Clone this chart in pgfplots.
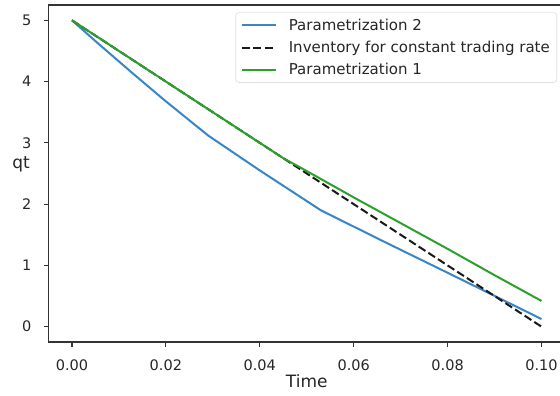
\documentclass[border=0pt]{standalone}
\usepackage{fontspec}
\setmainfont{DejaVu Sans}
\usepackage{pgfplots}
\pgfplotsset{compat=1.18}
\definecolor{pblue}{HTML}{3A86C4}
\definecolor{pgreen}{HTML}{2CA02C}
\begin{document}
\begin{tikzpicture}
\begin{axis}[
  scale only axis,
  width=516.5pt, height=337pt,
  xmin=-0.005, xmax=0.105,
  ymin=-0.25, ymax=5.25,
  xtick={0,0.02,0.04,0.06,0.08,0.1},
  xticklabels={0.00,0.02,0.04,0.06,0.08,0.10},
  ytick={0,1,2,3,4,5},
  /pgf/number format/assume math mode=true,
  tick align=outside, xtick pos=left, ytick pos=left,
  major tick length=5pt,
  tick style={black!80, line width=1.1pt},
  axis line style={black!80, line width=1.1pt},
  ticklabel style={font=\fontsize{14.5}{17}\selectfont, text=black!85, inner sep=0pt},
  xticklabel style={anchor=base, yshift=-24pt},
  yticklabel style={anchor=east, xshift=-12pt},
  xlabel={Time},
  xlabel style={font=\fontsize{17}{20}\selectfont, text=black!85, at={(axis description cs:0.5,0)}, anchor=base, yshift=-46pt, inner sep=0pt},
  ylabel={qt},
  ylabel style={font=\fontsize{17}{20}\selectfont, text=black!85, rotate=-90, at={(axis description cs:0,0.5)}, anchor=base, xshift=-27.5pt, yshift=5.5pt, inner sep=0pt},
  legend style={at={(axis description cs:1,1)}, anchor=north east, xshift=-8pt, yshift=-7.5pt,
    draw=black!20, rounded corners=3pt, fill=white, fill opacity=0.8, text opacity=1,
    font=\fontsize{15}{18}\selectfont, text=black!85, row sep=5.5pt, column sep=10pt,
    inner xsep=5pt, inner ysep=4pt},
  legend cell align=left,
  legend image code/.code={\draw[#1] (0pt,0pt) -- (34pt,0pt);},
]
\addplot[pblue, line width=2pt] coordinates {
 (0,5) (0.0056,4.62) (0.0127,4.15) (0.0198,3.69) (0.029,3.12) (0.04,2.55) (0.053,1.9) (0.0656,1.42) (0.08,0.88) (0.1,0.125)};
\addlegendentry{Parametrization 2}
\addplot[black!90, line width=2pt, dash pattern=on 8pt off 3.5pt] coordinates {(0,5) (0.1,0)};
\addlegendentry{Inventory for constant trading rate}
\addplot[pgreen, line width=2pt] coordinates {
 (0,5) (0.02,4.0) (0.04,3.0) (0.045,2.75) (0.05,2.54) (0.06,2.11) (0.07,1.69) (0.08,1.27) (0.09,0.84) (0.1,0.42)};
\addlegendentry{Parametrization 1}
\end{axis}
\pgfresetboundingbox
\useasboundingbox (-48.5pt,-54pt) rectangle (511.5pt,342pt);
\end{tikzpicture}
\end{document}
